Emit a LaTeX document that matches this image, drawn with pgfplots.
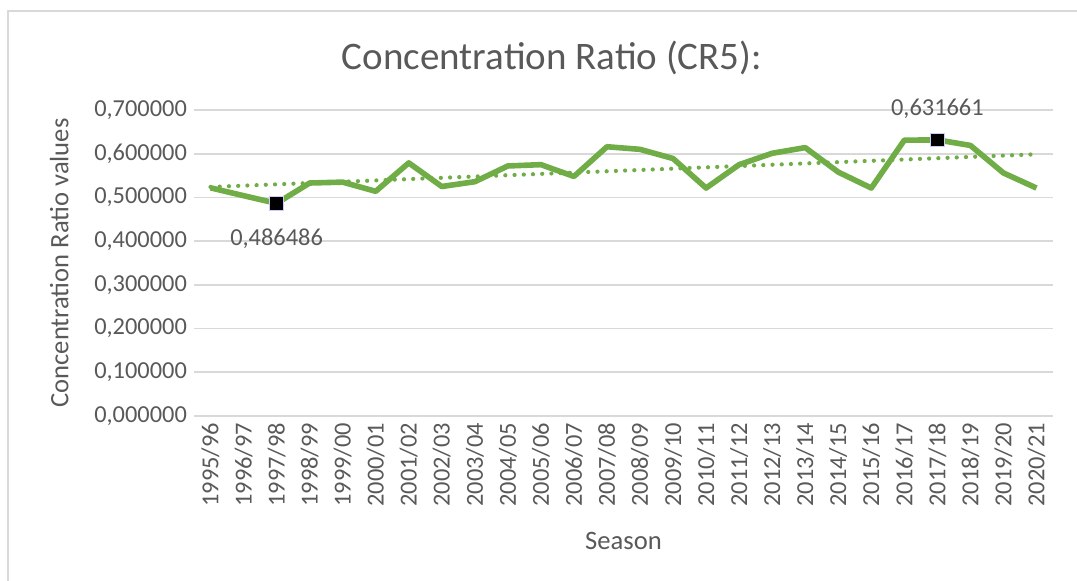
\documentclass[border=0pt]{standalone}
\usepackage{pgfplots}
\pgfplotsset{compat=1.18}
\usepackage{pgfplotstable}
\usepackage{fontspec}
\setmainfont{Carlito}
\definecolor{txt}{HTML}{595959}
\definecolor{grn}{HTML}{70AD47}
\definecolor{grd}{HTML}{D9D9D9}
\pgfplotstableread{
x y
0 0.522
1 0.504
2 0.486486
3 0.533
4 0.535
5 0.514
6 0.579
7 0.525
8 0.536
9 0.572
10 0.575
11 0.548
12 0.616
13 0.610
14 0.589
15 0.5215
16 0.575
17 0.601
18 0.614
19 0.558
20 0.5215
21 0.631
22 0.631661
23 0.619
24 0.556
25 0.5215
}\crdata
\begin{document}
\begin{tikzpicture}[x=0.5pt,y=0.5pt]
\useasboundingbox (0,0) rectangle (1077,580);
\draw[grd, line width=1pt] (8,-10) -- (8,569) -- (1090,569);
\node[txt, font=\fontsize{19.5}{22}\selectfont] at (552,522) {Concentration Ratio (CR5):};
\begin{axis}[
  at={(194pt*0.5,164pt*0.5)}, anchor=south west,
  scale only axis, width=429.5pt, height=153pt,
  xmin=-0.5, xmax=25.5, ymin=0, ymax=0.7,
  axis line style={draw=none},
  major tick length=0pt,
  ytick={0,0.1,...,0.7},
  ymajorgrids, grid style={grd, line width=0.8pt},
  xtick={0,...,25},
  xticklabels={1995/96,1996/97,1997/98,1998/99,1999/00,2000/01,2001/02,2002/03,2003/04,2004/05,2005/06,2006/07,2007/08,2008/09,2009/10,2010/11,2011/12,2012/13,2013/14,2014/15,2015/16,2016/17,2017/18,2018/19,2019/20,2020/21},
  xticklabel style={rotate=90, anchor=east, font=\fontsize{12.2}{14}\selectfont, txt},
  yticklabel style={font=\fontsize{12.2}{14}\selectfont, txt},
  /pgf/number format/.cd, fixed, fixed zerofill, precision=6, use comma, assume math mode=true,
  /pgfplots/.cd,
  xlabel={Season}, ylabel={Concentration Ratio values},
  xlabel style={font=\fontsize{13.3}{15}\selectfont, txt, yshift=-6pt},
  ylabel style={font=\fontsize{13.3}{15}\selectfont, txt, yshift=6pt},
  clip=false,
]
\draw[grd, line width=0.8pt] (axis cs:-0.5,0) -- (axis cs:25.5,0);
\addplot[grn, line width=2.1pt, dash pattern=on 0.01pt off 4.6pt, line cap=round]
  table[x=x, y={create col/linear regression={y=y}}] {\crdata};
\addplot[grn, line width=2.8pt, line join=round] table[x=x,y=y] {\crdata};
\addplot[only marks, mark=square*, mark size=3.4pt, mark options={fill=black, draw=blue!20, line width=0.4pt},
  nodes near coords={0,486486}, every node near coord/.append style={anchor=north, yshift=-9pt, font=\fontsize{12.2}{14}\selectfont, txt}]
  coordinates {(2,0.486486)};
\addplot[only marks, mark=square*, mark size=3.4pt, mark options={fill=black, draw=blue!20, line width=0.4pt},
  nodes near coords={0,631661}, every node near coord/.append style={anchor=south, yshift=7pt, font=\fontsize{12.2}{14}\selectfont, txt}]
  coordinates {(22,0.631661)};
\end{axis}
\end{tikzpicture}
\end{document}
